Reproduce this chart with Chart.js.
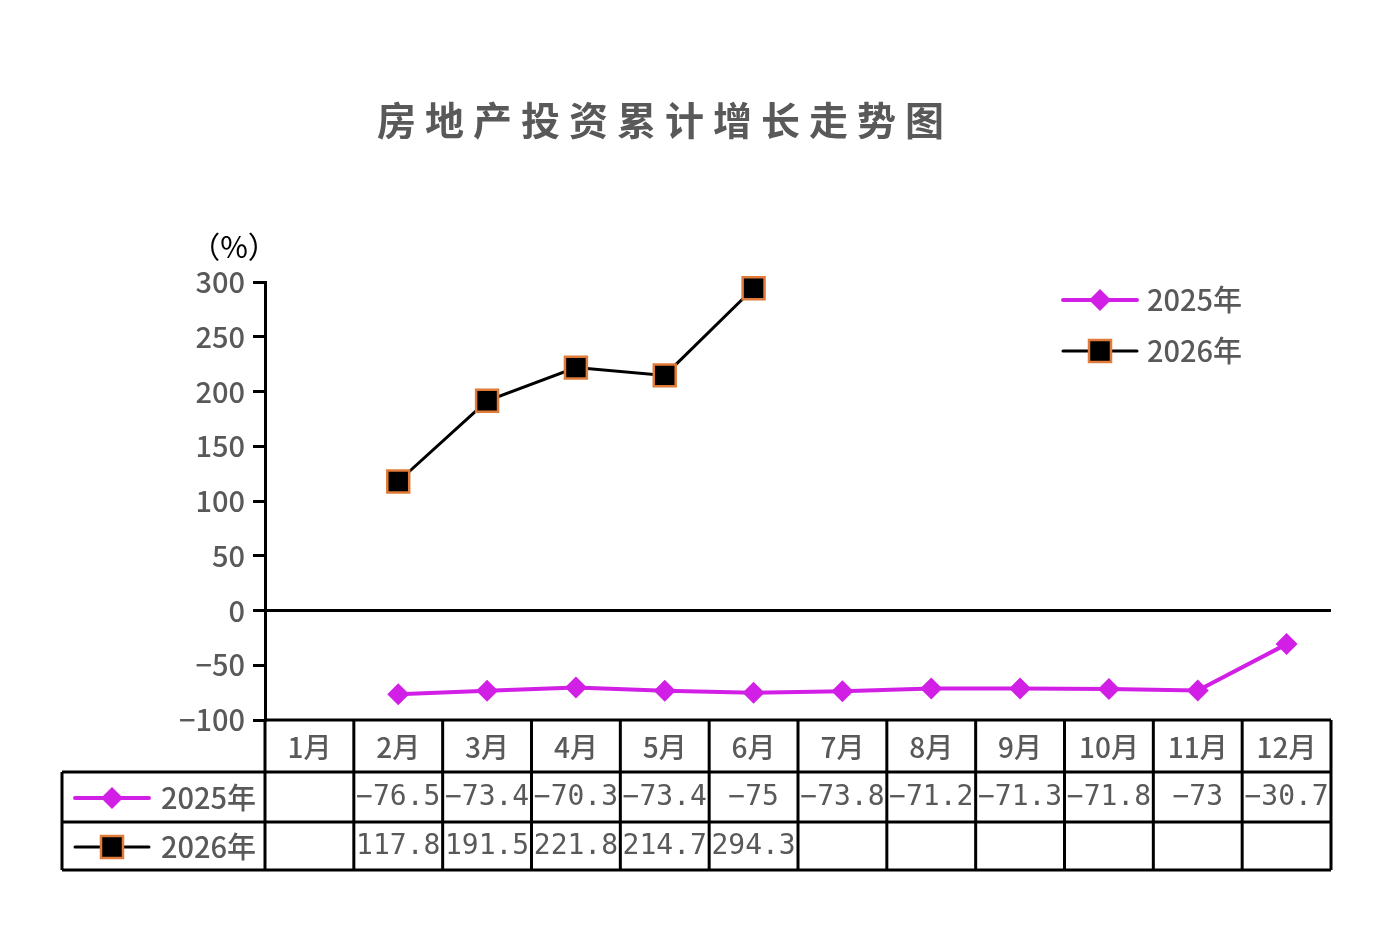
<!DOCTYPE html>
<html>
<head>
<meta charset="utf-8">
<script src="https://cdn.jsdelivr.net/npm/chart.js@4.4.1/dist/chart.umd.min.js"></script>
<style>
  body { margin: 0; background: #fff; }
  #wrap { width: 1386px; height: 946px; position: relative; }
</style>
</head>
<body>
<div id="wrap"><canvas id="myChart"></canvas></div>
<script>
const months = ['1月', '2月', '3月', '4月', '5月', '6月', '7月', '8月', '9月', '10月', '11月', '12月'];
const seriesNames = ['2025年', '2026年'];
const values2025 = [null, -76.5, -73.4, -70.3, -73.4, -75, -73.8, -71.2, -71.3, -71.8, -73, -30.7];
const values2026 = [null, 117.8, 191.5, 221.8, 214.7, 294.3, null, null, null, null, null, null];
const yMin = -100, yMax = 300, yStep = 50;
const chartTitle = '房地产投资累计增长走势图';
const unitLabel = '（%）';

const MAGENTA = '#d21fe6';
const ORANGE = '#e07b39';
const GREY = '#595959';
const CJK = '"Noto Sans CJK SC", "Noto Sans", sans-serif';
const MONO = '"DejaVu Sans Mono", "Liberation Mono", monospace';

function diamond(c, x, y, r) {
  c.beginPath();
  c.moveTo(x, y - r); c.lineTo(x + r, y); c.lineTo(x, y + r); c.lineTo(x - r, y);
  c.closePath();
  c.fillStyle = MAGENTA; c.fill();
}
function square(c, x, y, h) {
  c.fillStyle = '#000';
  c.fillRect(x - h, y - h, 2 * h, 2 * h);
  c.strokeStyle = ORANGE; c.lineWidth = 2.5;
  c.strokeRect(x - h, y - h, 2 * h, 2 * h);
}
function legendSample(c, i, x1, x2, y) {
  c.save();
  c.lineCap = 'round';
  c.beginPath(); c.moveTo(x1, y); c.lineTo(x2, y);
  c.strokeStyle = i === 0 ? MAGENTA : '#000';
  c.lineWidth = i === 0 ? 4 : 3;
  c.stroke();
  if (i === 0) diamond(c, (x1 + x2) / 2, y, 11);
  else square(c, (x1 + x2) / 2, y, 11);
  c.restore();
}
function fmt(v) {
  return v === null ? '' : String(v).replace('-', '−');
}

const extras = {
  id: 'extras',
  afterDraw(chart) {
    const c = chart.ctx;
    const x = chart.scales.x;
    const area = chart.chartArea;
    const colW = (area.right - area.left) / months.length;
    const rows = [area.bottom, area.bottom + 52, area.bottom + 102, area.bottom + 150];
    const tableLeft = 62;

    c.save();
    // title
    c.font = 'bold 39px ' + CJK;
    c.fillStyle = GREY;
    c.textBaseline = 'middle';
    c.textAlign = 'left';
    c.letterSpacing = '9px';
    c.fillText(chartTitle, 377, 120);
    c.letterSpacing = '0px';

    // unit
    c.font = '30px ' + CJK;
    c.fillStyle = '#000';
    c.textAlign = 'center';
    c.fillText(unitLabel, 234, 247);

    // legend inside the plot
    c.font = '500 29px ' + CJK;
    seriesNames.forEach((name, i) => {
      const ly = 300 + i * 51;
      legendSample(c, i, 1063, 1137, ly);
      c.fillStyle = GREY;
      c.textAlign = 'left';
      c.fillText(name, 1147, ly);
    });

    // table grid
    c.strokeStyle = '#000';
    c.lineWidth = 3;
    c.beginPath();
    c.moveTo(area.left, rows[0]); c.lineTo(area.right, rows[0]);
    for (let r = 1; r < rows.length; r++) {
      c.moveTo(tableLeft, rows[r]); c.lineTo(area.right, rows[r]);
    }
    c.moveTo(tableLeft, rows[1]); c.lineTo(tableLeft, rows[3]);
    for (let i = 0; i <= months.length; i++) {
      const gx = x.getPixelForValue(i) - colW / 2;
      c.moveTo(gx, rows[0]); c.lineTo(gx, rows[3]);
    }
    c.stroke();

    // month row
    c.fillStyle = GREY;
    c.textAlign = 'center';
    c.font = '500 28px ' + CJK;
    months.forEach((m, i) => c.fillText(m, x.getPixelForValue(i), (rows[0] + rows[1]) / 2 + 1));

    // series rows
    [values2025, values2026].forEach((vals, s) => {
      const cy = (rows[s + 1] + rows[s + 2]) / 2 + 1;
      legendSample(c, s, 75, 149, cy);
      c.font = '500 29px ' + CJK;
      c.fillStyle = GREY;
      c.textAlign = 'left';
      c.fillText(seriesNames[s], 161, cy);
      c.font = '28px ' + MONO;
      c.textAlign = 'center';
      vals.forEach((v, i) => c.fillText(fmt(v), x.getPixelForValue(i), cy));
    });
    c.restore();
  }
};

new Chart(document.getElementById('myChart'), {
  type: 'line',
  data: {
    labels: months,
    datasets: [{
      label: seriesNames[0],
      data: values2025,
      clip: false,
      borderColor: MAGENTA,
      backgroundColor: MAGENTA,
      borderWidth: 4,
      pointStyle: 'rectRot',
      pointRadius: 11,
      pointBorderWidth: 0,
      pointBackgroundColor: MAGENTA
    }, {
      label: seriesNames[1],
      data: values2026,
      clip: false,
      borderColor: '#000',
      backgroundColor: '#000',
      borderWidth: 3,
      pointStyle: 'rect',
      pointRadius: 15.5,
      pointBorderWidth: 2.5,
      pointBorderColor: ORANGE,
      pointBackgroundColor: '#000'
    }]
  },
  options: {
    responsive: true,
    maintainAspectRatio: false,
    animation: false,
    layout: { padding: { left: 0, top: 282, right: 55, bottom: 226 } },
    plugins: {
      legend: { display: false },
      title: { display: false },
      tooltip: { enabled: false }
    },
    scales: {
      x: {
        display: false,
        offset: true
      },
      y: {
        min: yMin,
        max: yMax,
        afterFit: s => { s.width = 265; },
        border: { display: true, color: '#000', width: 3 },
        grid: {
          drawOnChartArea: true,
          color: ctx => ctx.tick && ctx.tick.value === 0 ? '#000' : 'rgba(0,0,0,0)',
          lineWidth: 3,
          tickColor: '#000',
          tickLength: 12
        },
        ticks: {
          stepSize: yStep,
          padding: 8,
          color: GREY,
          font: { family: CJK, size: 29, weight: '500' },
          callback: v => fmt(v)
        }
      }
    }
  },
  plugins: [extras]
});
</script>
</body>
</html>
